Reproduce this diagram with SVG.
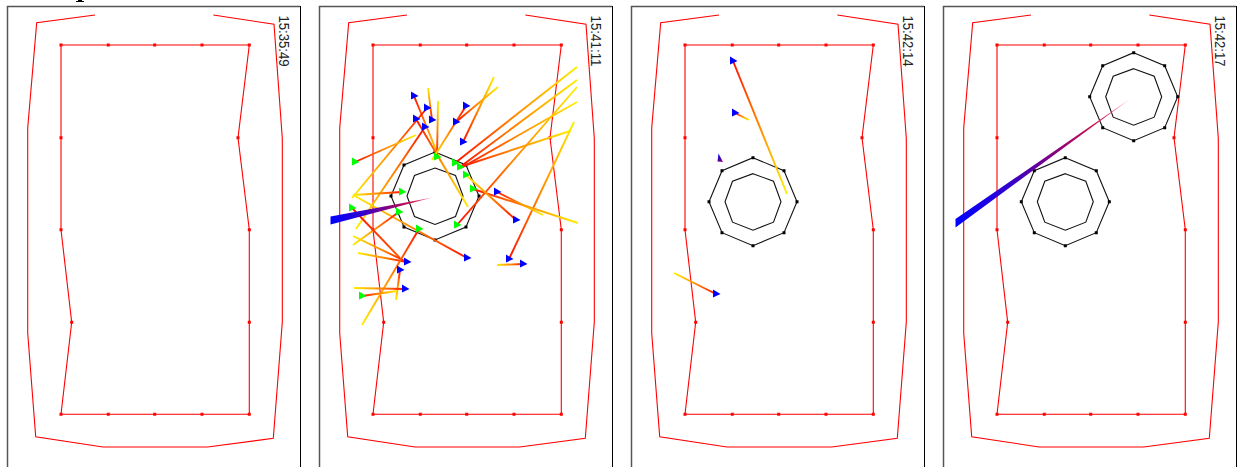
<svg xmlns="http://www.w3.org/2000/svg" xmlns:xlink="http://www.w3.org/1999/xlink" width="1245" height="467" viewBox="0 0 1245 467">
<style>
.o{fill:none;stroke:#ff0000;stroke-width:1.1}
.k{fill:none;stroke:#111;stroke-width:1.1}
.t{font-family:"Liberation Sans",Arial,sans-serif;font-size:14px;fill:#222}
.c{fill:none;stroke-width:1.9}
.fl{fill:none;stroke:#555;stroke-width:1.5}
.fr{fill:none;stroke:#000;stroke-width:1}
</style>
<defs>
<linearGradient id="c"><stop offset="0" stop-color="#ffee00"/><stop offset="0.5" stop-color="#ff8c00"/><stop offset="1" stop-color="#ff1000"/></linearGradient>
<linearGradient id="d"><stop offset="0" stop-color="#ff5a00"/><stop offset="1" stop-color="#ff1000"/></linearGradient>
<linearGradient id="w"><stop offset="0" stop-color="#0000ff"/><stop offset="0.3" stop-color="#3000d0"/><stop offset="0.55" stop-color="#800080"/><stop offset="0.8" stop-color="#d01050"/><stop offset="1" stop-color="#ff8090"/></linearGradient>
<path id="b" d="M-3-4.500L4.500 0L-3 3.500Z" fill="#0000ff"/>
<path id="g" d="M-3-4.500L4.500 0L-3 3.500Z" fill="#00ff00"/>
<g id="room">
<path class="o" d="M95 15L36.7 22.7L27.7 128L27.7 333L35.7 436.7L103 447L207.7 447L273.3 438.3L282.3 322.3L282.3 138.3L274 24.3L213.3 15"/>
<path class="o" d="M61 45H249.3L238 137.7L249.3 229.7V414.3H61L71.7 322.3L61 229.7Z"/>
<path fill="#ff0000" d="M59.5 43.5h3v3h-3zM106.8 43.5h3v3h-3zM153.2 43.5h3v3h-3zM200.5 43.5h3v3h-3zM247.8 43.5h3v3h-3zM236.5 136.2h3v3h-3zM247.8 228.2h3v3h-3zM247.8 320.8h3v3h-3zM247.8 412.8h3v3h-3zM200.5 412.8h3v3h-3zM153.2 412.8h3v3h-3zM106.8 412.8h3v3h-3zM59.5 412.8h3v3h-3zM70.2 320.8h3v3h-3zM59.5 228.2h3v3h-3zM59.5 136.2h3v3h-3z"/>
<path class="fl" d="M7.500 467V6.500H300"/>
<path class="fr" d="M300.500 6V467"/>
</g>
<g id="oct">
<path class="k" d="M0-44L31-31L44 0L31 31L0 44L-31 31L-44 0L-31-31Z"/>
<path class="k" d="M0-28L20.5-20.5L28 0L20.5 20.5L0 28.5L-20.5 20.5L-28 0L-20.5-20.5Z"/>
<path fill="#000" d="M-1.500-45.500h3v3h-3zM29.500-32.500h3v3h-3zM42.500-1.500h3v3h-3zM29.500 29.500h3v3h-3zM-1.500 42.500h3v3h-3zM-32.500 29.500h3v3h-3zM-45.500-1.500h3v3h-3zM-32.500-32.500h3v3h-3z"/>
</g>
<linearGradient id="w2" xlink:href="#w" gradientUnits="userSpaceOnUse" x1="331" y1="220" x2="432" y2="198"/>
<linearGradient id="w4" xlink:href="#w" gradientUnits="userSpaceOnUse" x1="956" y1="223" x2="1130" y2="99"/>
<linearGradient id="w3" gradientUnits="userSpaceOnUse" x1="718" y1="154" x2="723" y2="162"><stop offset="0" stop-color="#0000ff"/><stop offset="0.7" stop-color="#600090"/><stop offset="1" stop-color="#c01060"/></linearGradient>
<linearGradient id="l1" xlink:href="#c" gradientUnits="userSpaceOnUse" x1="441" y1="162" x2="414" y2="96"/>
<linearGradient id="l2" xlink:href="#c" gradientUnits="userSpaceOnUse" x1="352" y1="198" x2="427" y2="108"/>
<linearGradient id="l3" xlink:href="#c" gradientUnits="userSpaceOnUse" x1="468" y1="207" x2="416" y2="119"/>
<linearGradient id="l4" xlink:href="#c" gradientUnits="userSpaceOnUse" x1="356" y1="229" x2="425" y2="127"/>
<linearGradient id="l5" xlink:href="#c" gradientUnits="userSpaceOnUse" x1="428" y1="88" x2="432" y2="120"/>
<linearGradient id="l6" xlink:href="#c" gradientUnits="userSpaceOnUse" x1="416" y1="135" x2="355" y2="162"/>
<linearGradient id="l7" xlink:href="#c" gradientUnits="userSpaceOnUse" x1="438" y1="101" x2="437" y2="157"/>
<linearGradient id="l8" xlink:href="#c" gradientUnits="userSpaceOnUse" x1="432" y1="160" x2="466" y2="106"/>
<linearGradient id="l9" xlink:href="#c" gradientUnits="userSpaceOnUse" x1="498" y1="87" x2="456" y2="122"/>
<linearGradient id="l10" xlink:href="#c" gradientUnits="userSpaceOnUse" x1="494" y1="77" x2="463" y2="142"/>
<linearGradient id="l11" xlink:href="#c" gradientUnits="userSpaceOnUse" x1="577" y1="67" x2="455" y2="163"/>
<linearGradient id="l12" xlink:href="#c" gradientUnits="userSpaceOnUse" x1="577" y1="80" x2="460" y2="167"/>
<linearGradient id="l13" xlink:href="#c" gradientUnits="userSpaceOnUse" x1="577" y1="102" x2="461" y2="168"/>
<linearGradient id="l14" xlink:href="#c" gradientUnits="userSpaceOnUse" x1="570" y1="131" x2="460" y2="167"/>
<linearGradient id="l15" xlink:href="#c" gradientUnits="userSpaceOnUse" x1="577" y1="87" x2="457" y2="225"/>
<linearGradient id="l16" xlink:href="#c" gradientUnits="userSpaceOnUse" x1="574" y1="122" x2="509" y2="259"/>
<linearGradient id="l17" xlink:href="#c" gradientUnits="userSpaceOnUse" x1="578" y1="223" x2="473" y2="189"/>
<linearGradient id="l18" xlink:href="#c" gradientUnits="userSpaceOnUse" x1="543" y1="215" x2="497" y2="192"/>
<linearGradient id="l19" xlink:href="#c" gradientUnits="userSpaceOnUse" x1="466" y1="175" x2="516" y2="220"/>
<linearGradient id="l20" xlink:href="#c" gradientUnits="userSpaceOnUse" x1="497" y1="265" x2="523" y2="264"/>
<linearGradient id="l21" xlink:href="#c" gradientUnits="userSpaceOnUse" x1="353" y1="195" x2="467" y2="258"/>
<linearGradient id="l22" xlink:href="#c" gradientUnits="userSpaceOnUse" x1="353" y1="195" x2="402" y2="192"/>
<linearGradient id="l23" xlink:href="#c" gradientUnits="userSpaceOnUse" x1="353" y1="245" x2="399" y2="212"/>
<linearGradient id="l24" xlink:href="#d" gradientUnits="userSpaceOnUse" x1="400" y1="258" x2="352" y2="208"/>
<linearGradient id="l25" xlink:href="#c" gradientUnits="userSpaceOnUse" x1="358" y1="253" x2="407" y2="262"/>
<linearGradient id="l26" xlink:href="#c" gradientUnits="userSpaceOnUse" x1="353" y1="236" x2="407" y2="262"/>
<linearGradient id="l27" xlink:href="#c" gradientUnits="userSpaceOnUse" x1="362" y1="325" x2="419" y2="229"/>
<linearGradient id="l28" xlink:href="#c" gradientUnits="userSpaceOnUse" x1="396" y1="300" x2="400" y2="270"/>
<linearGradient id="l29" xlink:href="#c" gradientUnits="userSpaceOnUse" x1="354" y1="288" x2="405" y2="289"/>
<linearGradient id="l30" xlink:href="#c" gradientUnits="userSpaceOnUse" x1="397" y1="291" x2="362" y2="296"/>
<linearGradient id="m1" xlink:href="#c" gradientUnits="userSpaceOnUse" x1="787" y1="194" x2="733" y2="61"/>
<linearGradient id="m2" xlink:href="#c" gradientUnits="userSpaceOnUse" x1="749" y1="120" x2="735" y2="113"/>
<linearGradient id="m3" xlink:href="#c" gradientUnits="userSpaceOnUse" x1="674" y1="273" x2="716" y2="294"/>
</defs>
<path id="title-fragment" fill="#000" d="M76 2h8v-1h-2v-1h-4v1h-2z"/>
<g id="panel-1">
<use xlink:href="#room"/>
<text class="t" textLength="51" lengthAdjust="spacingAndGlyphs" transform="translate(278.500 15.500) rotate(90)">15:35:49</text>
</g>
<g id="panel-2">
<use xlink:href="#room" x="312"/>
<text class="t" textLength="51" lengthAdjust="spacingAndGlyphs" transform="translate(590.500 15.500) rotate(90)">15:41:11</text>
<use xlink:href="#oct" x="435" y="196"/>
<g id="connectors-2">
<path class="c" stroke="url(#l1)" d="M441 162L414 96"/>
<path class="c" stroke="url(#l2)" d="M352 198L427 108"/>
<path class="c" stroke="url(#l3)" d="M468 207L416 119"/>
<path class="c" stroke="url(#l4)" d="M356 229L425 127"/>
<path class="c" stroke="url(#l5)" d="M428 88L432 120"/>
<path class="c" stroke="url(#l6)" d="M416 135L355 162"/>
<path class="c" stroke="url(#l7)" d="M438 101L437 157"/>
<path class="c" stroke="url(#l8)" d="M432 160L466 106"/>
<path class="c" stroke="url(#l9)" d="M498 87L456 122"/>
<path class="c" stroke="url(#l10)" d="M494 77L463 142"/>
<path class="c" stroke="url(#l11)" d="M577 67L455 163"/>
<path class="c" stroke="url(#l12)" d="M577 80L460 167"/>
<path class="c" stroke="url(#l13)" d="M577 102L461 168"/>
<path class="c" stroke="url(#l14)" d="M570 131L460 167"/>
<path class="c" stroke="url(#l15)" d="M577 87L457 225"/>
<path class="c" stroke="url(#l16)" d="M574 122L509 259"/>
<path class="c" stroke="url(#l17)" d="M578 223L473 189"/>
<path class="c" stroke="url(#l18)" d="M543 215L497 192"/>
<path class="c" stroke="url(#l19)" d="M466 175L516 220"/>
<path class="c" stroke="url(#l20)" d="M497 265L523 264"/>
<path class="c" stroke="url(#l21)" d="M353 195L467 258"/>
<path class="c" stroke="url(#l22)" d="M353 195L402 192"/>
<path class="c" stroke="url(#l23)" d="M353 245L399 212"/>
<path class="c" stroke="url(#l24)" d="M400 258L352 208"/>
<path class="c" stroke="url(#l25)" d="M358 253L407 262"/>
<path class="c" stroke="url(#l26)" d="M353 236L407 262"/>
<path class="c" stroke="url(#l27)" d="M362 325L419 229"/>
<path class="c" stroke="url(#l28)" d="M396 300L400 270"/>
<path class="c" stroke="url(#l29)" d="M354 288L405 289"/>
<path class="c" stroke="url(#l30)" d="M397 291L362 296"/>
<path fill="url(#w2)" d="M330.500 216.500L432.500 197.500L330.500 224.500Z"/>
<use xlink:href="#b" x="414" y="96"/><use xlink:href="#b" x="427" y="108"/><use xlink:href="#b" x="416" y="119"/><use xlink:href="#b" x="425" y="127"/><use xlink:href="#b" x="432" y="120"/><use xlink:href="#b" x="466" y="106"/><use xlink:href="#b" x="456" y="122"/><use xlink:href="#b" x="463" y="142"/><use xlink:href="#b" x="509" y="259"/><use xlink:href="#b" x="497" y="192"/><use xlink:href="#b" x="516" y="220"/><use xlink:href="#b" x="523" y="264"/><use xlink:href="#b" x="467" y="258"/><use xlink:href="#b" x="407" y="262"/><use xlink:href="#b" x="400" y="270"/><use xlink:href="#b" x="405" y="289"/>
<use xlink:href="#g" x="355" y="162"/><use xlink:href="#g" x="437" y="157"/><use xlink:href="#g" x="455" y="163"/><use xlink:href="#g" x="460" y="167"/><use xlink:href="#g" x="457" y="225"/><use xlink:href="#g" x="473" y="189"/><use xlink:href="#g" x="466" y="175"/><use xlink:href="#g" x="402" y="192"/><use xlink:href="#g" x="399" y="212"/><use xlink:href="#g" x="352" y="208"/><use xlink:href="#g" x="419" y="229"/><use xlink:href="#g" x="362" y="296"/>
</g>
</g>
<g id="panel-3">
<use xlink:href="#room" x="624"/>
<text class="t" textLength="51" lengthAdjust="spacingAndGlyphs" transform="translate(902.500 15.500) rotate(90)">15:42:14</text>
<use xlink:href="#oct" x="753" y="201.700"/>
<g id="connectors-3">
<path class="c" stroke="url(#m1)" d="M787 194L733 61"/>
<path class="c" stroke="url(#m2)" d="M749 120L735 113"/>
<path class="c" stroke="url(#m3)" d="M674 273L716 294"/>
<path fill="url(#w3)" d="M718.500 153.500L723 162L717.500 161.500Z"/>
<use xlink:href="#b" x="733" y="61"/><use xlink:href="#b" x="735" y="113"/><use xlink:href="#b" x="716" y="294"/>
</g>
</g>
<g id="panel-4">
<use xlink:href="#room" x="936"/>
<text class="t" textLength="51" lengthAdjust="spacingAndGlyphs" transform="translate(1214.500 15.500) rotate(90)">15:42:17</text>
<use xlink:href="#oct" x="1065.300" y="201.700"/>
<use xlink:href="#oct" x="1133.700" y="96.700"/>
<g id="connectors-4">
<path fill="url(#w4)" d="M955.500 219L1130 99L955.500 227.500Z"/>
</g>
</g>
</svg>
